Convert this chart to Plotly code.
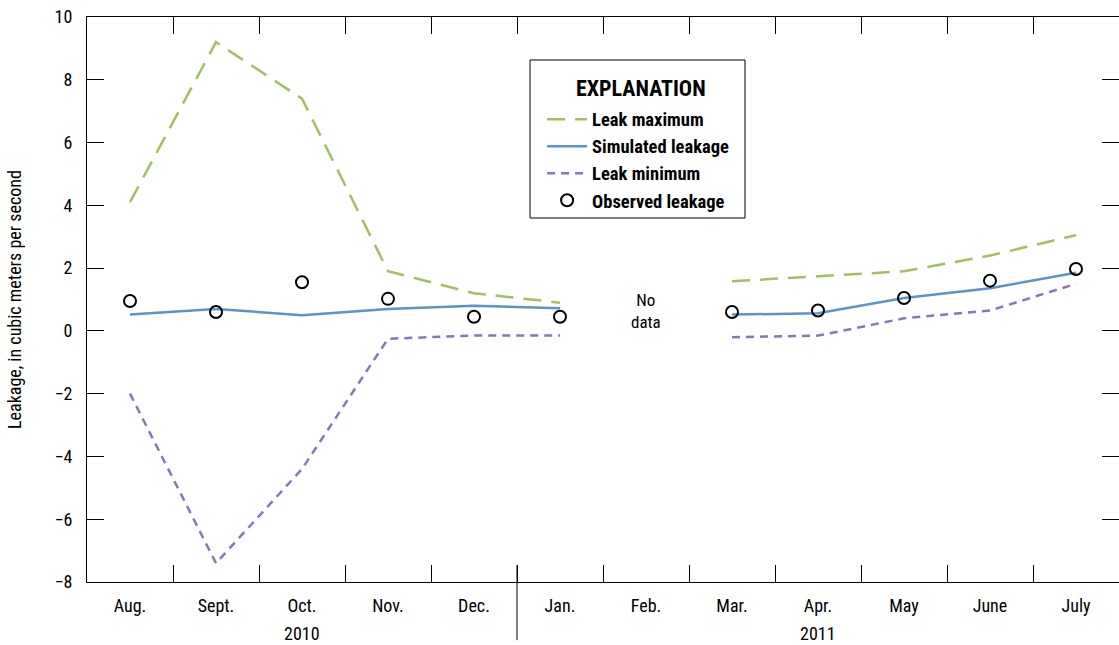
import plotly.graph_objects as go

months = ["Aug.", "Sept.", "Oct.", "Nov.", "Dec.", "Jan.", "Feb.", "Mar.", "Apr.", "May", "June", "July"]
leak_max = [4.1, 9.2, 7.4, 1.9, 1.2, 0.9, None, 1.58, 1.75, 1.9, 2.4, 3.05]
simulated = [0.52, 0.7, 0.5, 0.7, 0.8, 0.72, None, 0.52, 0.56, 1.05, 1.36, 1.85]
leak_min = [-2.0, -7.4, -4.4, -0.25, -0.15, -0.15, None, -0.2, -0.15, 0.4, 0.65, 1.5]
observed = [0.95, 0.6, 1.55, 1.02, 0.45, 0.45, None, 0.6, 0.65, 1.05, 1.6, 1.97]
years = ["2010", "2011"]
year_centers = ["Oct.", "Apr."]
y_ticks = [-8, -6, -4, -2, 0, 2, 4, 6, 8, 10]

FONT = "Liberation Sans Narrow, Roboto Condensed, Arial Narrow, Liberation Sans, sans-serif"

fig = go.Figure()
fig.add_trace(go.Scatter(x=months, y=leak_max, mode="lines", name="<b>Leak maximum</b>",
                         line=dict(color="#9fc160", width=2.5, dash="18px,10px")))
fig.add_trace(go.Scatter(x=months, y=simulated, mode="lines", name="<b>Simulated leakage</b>",
                         line=dict(color="#5b93cb", width=2.5)))
fig.add_trace(go.Scatter(x=months, y=leak_min, mode="lines", name="<b>Leak minimum</b>",
                         line=dict(color="#8f74b4", width=2.5, dash="8px,6px")))
fig.add_trace(go.Scatter(x=months, y=observed, mode="markers", name="<b>Observed leakage</b>",
                         marker=dict(symbol="circle-open", size=12, color="black", line=dict(width=2, color="black"))))

fig.add_annotation(x="Feb.", y=0.64, text="No<br>data", showarrow=False,
                   font=dict(size=17, color="black", family=FONT))
for yr, c in zip(years, year_centers):
    fig.add_annotation(x=c, y=-0.092, yref="paper", text=yr, showarrow=False,
                       yanchor="middle", font=dict(size=18, color="black", family=FONT))

# legend box and title
fig.add_shape(type="rect", xref="paper", yref="paper", x0=0.4293, x1=0.6376, y0=0.6442, y1=0.9239,
              line=dict(color="black", width=1), fillcolor="white", layer="below")
fig.add_annotation(x=0.5368, y=0.8726, xref="paper", yref="paper", text="<b>EXPLANATION</b>",
                   showarrow=False, xanchor="center", yanchor="middle",
                   font=dict(size=22, color="black", family=FONT))

fig.add_shape(type="line", x0=4.5, x1=4.5, xref="x", y0=0.03, y1=-0.103, yref="paper",
              line=dict(color="black", width=1))

fig.update_layout(
    width=1119, height=645,
    margin=dict(l=87, r=0, t=17, b=63, autoexpand=False),
    plot_bgcolor="white", paper_bgcolor="white",
    font=dict(family=FONT, size=18, color="black"),
    showlegend=True,
    legend=dict(x=0.441, y=0.852, xanchor="left", yanchor="top",
                borderwidth=0, bgcolor="rgba(0,0,0,0)",
                font=dict(size=18.5), tracegroupgap=0, itemwidth=40),
    xaxis=dict(type="category", range=[-0.5, 11.5], showline=True, linecolor="black", linewidth=1,
               mirror="ticks", ticks="inside", ticklen=17, tickcolor="black", tickson="boundaries",
               showgrid=False, zeroline=False, tickfont=dict(size=18), automargin=False,
               ticklabelstandoff=7),
    yaxis=dict(range=[-8, 10], tickvals=y_ticks, showline=True, linecolor="black", linewidth=1,
               mirror="ticks", ticks="inside", ticklen=17, tickcolor="black",
               showgrid=False, zeroline=False, tickfont=dict(size=18), automargin=False,
               ticklabelstandoff=10,
               title=dict(text="Leakage, in cubic meters per second", font=dict(size=18), standoff=28)),
)

fig.write_html("out.html", config={"displayModeBar": False},
               post_script="document.body.style.margin='0';document.body.style.overflow='hidden';")
